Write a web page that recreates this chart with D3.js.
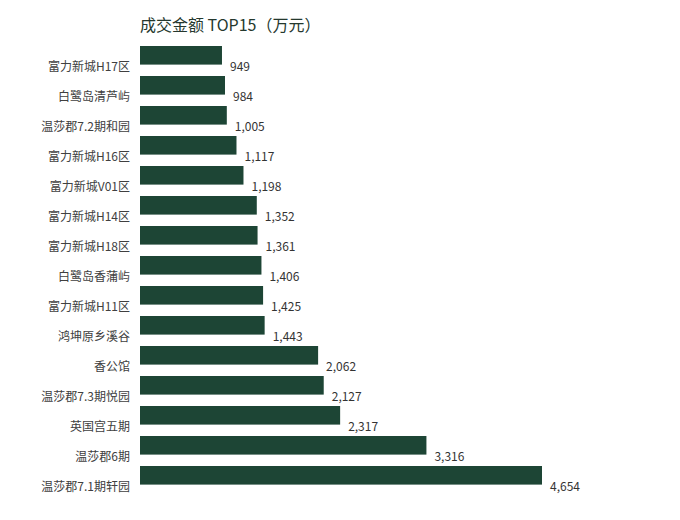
<!DOCTYPE html>
<html>
<head>
<meta charset="utf-8">
<script src="https://cdn.jsdelivr.net/npm/d3@7"></script>
<style>
    body { margin: 0; background: #fff; }
    text { font-family: "Noto Sans CJK SC", "Noto Sans", sans-serif; }
</style>
</head>
<body>
<script>
    const categories = [
        "富力新城H17区", "白鹭岛清芦屿", "温莎郡7.2期和园", "富力新城H16区", "富力新城V01区",
        "富力新城H14区", "富力新城H18区", "白鹭岛香蒲屿", "富力新城H11区", "鸿坤原乡溪谷",
        "香公馆", "温莎郡7.3期悦园", "英国宫五期", "温莎郡6期", "温莎郡7.1期轩园"
    ];
    const values = [949, 984, 1005, 1117, 1198, 1352, 1361, 1406, 1425, 1443, 2062, 2127, 2317, 3316, 4654];
    const title = "成交金额 TOP15（万元）";

    const width = 680;
    const height = 520;

    const svg = d3.select("body")
        .append("svg")
        .attr("width", width)
        .attr("height", height);

    const x = d3.scaleLinear()
        .domain([0, d3.max(values)])
        .range([140, 542]);

    const y = d3.scaleBand()
        .domain(categories)
        .range([46, 46 + 15 * 30 - 0.38 * 30])
        .paddingInner(0.38)
        .paddingOuter(0);

    const data = categories.map((c, i) => ({ name: c, value: values[i] }));
    const fmt = d3.format(",");

    svg.append("text")
        .attr("x", 140)
        .attr("y", 27)
        .attr("dominant-baseline", "middle")
        .attr("fill", "#25382e")
        .style("font-size", "16px")
        .text(title);

    svg.append("g")
        .selectAll("rect")
        .data(data)
        .join("rect")
        .attr("x", x(0))
        .attr("y", d => y(d.name))
        .attr("width", d => x(d.value) - x(0))
        .attr("height", y.bandwidth())
        .attr("fill", "#1d4535");

    svg.append("g")
        .selectAll("text")
        .data(data)
        .join("text")
        .attr("x", 130)
        .attr("y", d => y(d.name) + 22)
        .attr("text-anchor", "end")
        .attr("dominant-baseline", "middle")
        .attr("fill", "#404040")
        .style("font-size", "12px")
        .text(d => d.name);

    svg.append("g")
        .selectAll("text")
        .data(data)
        .join("text")
        .attr("x", d => x(d.value) + 8)
        .attr("y", d => y(d.name) + 22)
        .attr("dominant-baseline", "middle")
        .attr("fill", "#333")
        .style("font-size", "12px")
        .text(d => fmt(d.value));
</script>
</body>
</html>
